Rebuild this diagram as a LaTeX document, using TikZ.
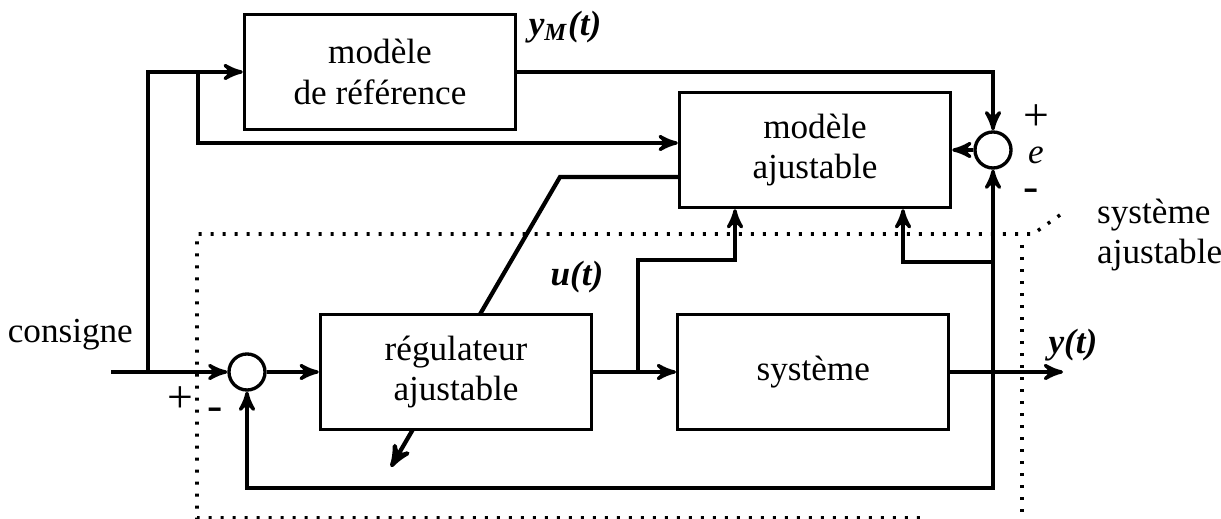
\documentclass[tikz,border=0pt]{standalone}
\usepackage{fontspec}
\setmainfont{Liberation Serif}
\usetikzlibrary{arrows, backgrounds}

\begin{document}
\begin{tikzpicture}[->,>=stealth',x=0.01cm,y=-0.01cm,line width=0.95pt,node distance=3.57cm,font=\fontsize{10}{11.5}\selectfont]
	\tikzstyle{block}=[draw,fill=white,minimum width=2.71cm,minimum height=1.15cm,align=center]
	\tikzstyle{sum}=[draw,circle,fill=white,minimum size=0.36cm,inner sep=0pt]
	\tikzstyle{limit}=[-,line width=1pt,dash pattern=on 0.03cm off 0.09cm]
	\tikzstyle{lbl}=[inner sep=1pt]
	\tikzstyle{sgn}=[inner sep=0pt,font=\fontsize{13}{13}\selectfont]

	\useasboundingbox (0,0) rectangle (1221,519);

	% blocs
	\node[block] (ref) at (380,72)	{modèle\\de référence};
	\node[block] (reg) at (456,372)	{régulateur\\ajustable};
	\node[block] (sys) [right of=reg]	{système};
	\node[block] (adj) at (815,150)	{modèle\\ajustable};
	\node[sum] (sL) at (247,372)	{};
	\node[sum] (sR) at (993,150)	{};

	% points de branchement
	\coordinate (in) at (111,372);
	\coordinate (c1) at (148,372);
	\coordinate (c2) at (198,72);
	\coordinate (c3) at (198,143);
	\coordinate (u) at (638,372);
	\coordinate (uk) at (735,260);
	\coordinate (yj) at (993,372);
	\coordinate (yk) at (903,262);
	\coordinate (fb) at (993,488);
	\coordinate (out) at (1063,372);
	\coordinate (d1) at (560,177);
	\coordinate (d2) at (391,467);

	% liaisons
	\draw (in) -- (sL);
	\draw (c1) |- (ref);
	\draw (c2) -- (c3) -- (c3 -| adj.west);
	\draw (ref) -| (sR);
	\draw (sR) -- (adj);
	\draw (sL) -- (reg);
	\draw (reg) -- (sys);
	\draw (sys) -- (out);
	\draw (u) |- (uk) -- (uk |- adj.south);
	\draw (yj) -- (sR);
	\draw (yk -| yj) -- (yk) -- (yk |- adj.south);
	\draw (yj) -- (fb) -| (sL);
	\begin{scope}[on background layer]
		\draw[->,>=stealth',line width=1.2pt] (adj.west |- d1) -- (d1) -- (d2);
	\end{scope}

	% systeme ajustable
	\draw[limit] (1060,215) -- (1033,234) -- (197,234) -- (197,518) -- (920,518);
	\draw[limit] (1022,245) -- (1022,512);

	% textes
	\node[lbl,anchor=east] (cons) at (138,335)	{consigne};
	\node[sgn] (pL) at (180,400)	{+};
	\node[sgn] (mL) at (215,414)	{-};
	\node[lbl] (ut) at (577,277)	{\textbf{\textit{u(t)}}};
	\node[lbl] (yMt) at (565,27)	{\textbf{\textit{y\textsubscript{M}(t)}}};
	\node[lbl] (yt) at (1073,345)	{\textbf{\textit{y(t)}}};
	\node[sgn] (pR) at (1036,118)	{+};
	\node[lbl] (eR) at (1036,155)	{\textit{e}};
	\node[sgn] (mR) at (1031,195)	{-};
	\node[lbl,anchor=west,align=left] (sa) at (1092,235)	{système\\ajustable};
\end{tikzpicture}
\end{document}
